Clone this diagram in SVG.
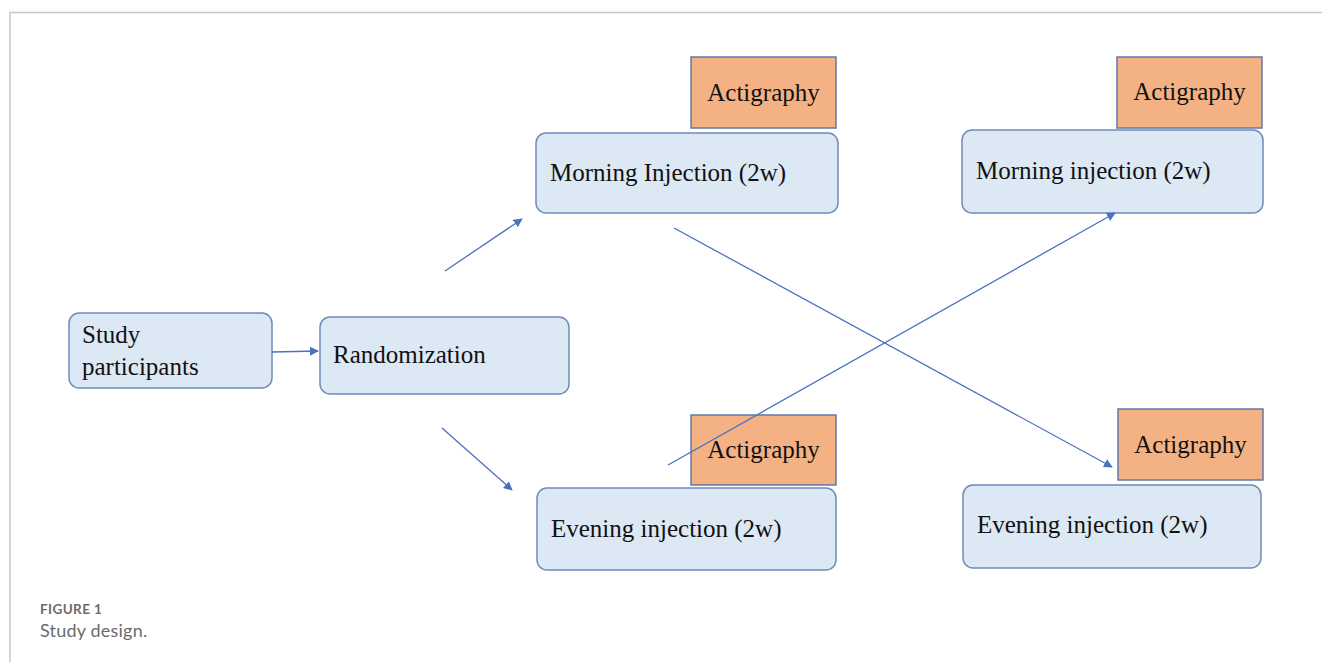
<svg xmlns="http://www.w3.org/2000/svg" width="1322" height="662" viewBox="0 0 1322 662">
<style>
.frame{fill:none;stroke:#c8c8c8;stroke-width:1.5}
.node{fill:#dde8f5;stroke:#6f8bb8;stroke-width:1.5}
.act{fill:#f4b183;stroke:#5f7ba8;stroke-width:1.5}
.t{font-family:"Liberation Serif","Times New Roman",serif;font-size:25px;fill:#111}
.c{stroke:#4a72c0;stroke-width:1.3;fill:none;marker-end:url(#ah)}
.cap1{font-family:Lato,"Open Sans",sans-serif;font-size:13.5px;font-weight:bold;fill:#6b6b6b;letter-spacing:0.4px}
.cap2{font-family:Lato,"Open Sans",sans-serif;font-size:18px;fill:#6b6b6b;letter-spacing:0.2px}
</style>
<defs>
<marker id="ah" viewBox="0 0 10 10" refX="9" refY="5" markerWidth="9" markerHeight="9" markerUnits="userSpaceOnUse" orient="auto">
<path d="M0,0 L10,5 L0,10 z" fill="#4a72c0"/>
</marker>
</defs>
<rect width="1322" height="662" fill="#fff"/>
<path class="frame" d="M10,662 V12.5 H1322"/>
<g id="study">
<rect class="node" x="69" y="313" width="203" height="75" rx="10"/>
<text class="t" x="82" y="343">Study</text>
<text class="t" x="82" y="375">participants</text>
</g>
<g id="rand">
<rect class="node" x="320" y="317" width="249" height="77" rx="10"/>
<text class="t" x="333" y="363">Randomization</text>
</g>
<g id="act1">
<rect class="act" x="691" y="57" width="145" height="71"/>
<text class="t" x="763.5" y="101" text-anchor="middle">Actigraphy</text>
</g>
<g id="morning1">
<rect class="node" x="536" y="133" width="302" height="80" rx="10"/>
<text class="t" x="550" y="181">Morning Injection (2w)</text>
</g>
<g id="act2">
<rect class="act" x="1117" y="57" width="145" height="71"/>
<text class="t" x="1189.5" y="100" text-anchor="middle">Actigraphy</text>
</g>
<g id="morning2">
<rect class="node" x="962" y="130" width="301" height="83" rx="10"/>
<text class="t" x="976" y="179">Morning injection (2w)</text>
</g>
<g id="act3">
<rect class="act" x="691" y="415" width="145" height="70"/>
<text class="t" x="763.5" y="458" text-anchor="middle">Actigraphy</text>
</g>
<g id="evening1">
<rect class="node" x="537" y="488" width="299" height="82" rx="10"/>
<text class="t" x="551" y="537">Evening injection (2w)</text>
</g>
<g id="act4">
<rect class="act" x="1118" y="409" width="145" height="71"/>
<text class="t" x="1190.5" y="453" text-anchor="middle">Actigraphy</text>
</g>
<g id="evening2">
<rect class="node" x="963" y="485" width="298" height="83" rx="10"/>
<text class="t" x="977" y="533">Evening injection (2w)</text>
</g>
<g id="connectors">
<line class="c" x1="272" y1="352" x2="318" y2="351"/>
<line class="c" x1="445" y1="271" x2="522" y2="219"/>
<line class="c" x1="442" y1="428" x2="512" y2="490"/>
<line class="c" x1="674" y1="228" x2="1112" y2="467"/>
<line class="c" x1="668" y1="465" x2="1115" y2="213"/>
</g>
<g id="caption">
<text class="cap1" x="40" y="614">FIGURE 1</text>
<text class="cap2" x="40" y="637">Study design.</text>
</g>
</svg>
